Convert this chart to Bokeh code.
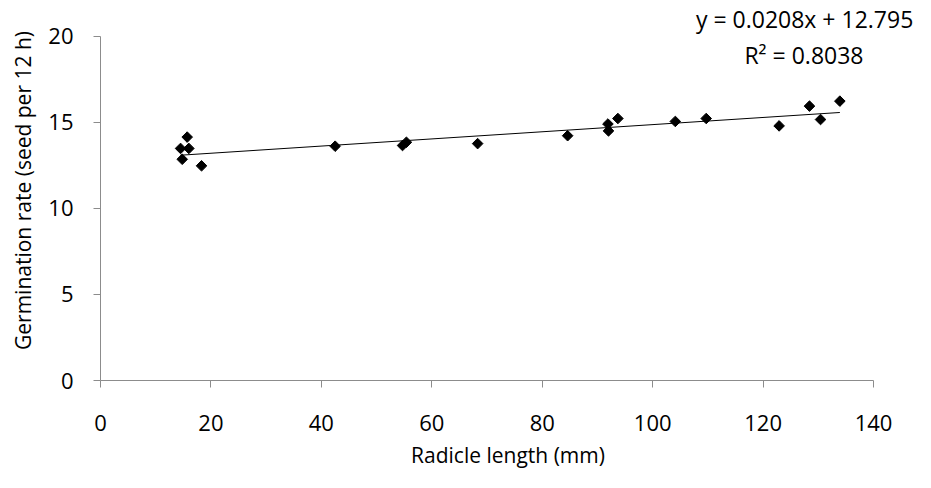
import math
from bokeh.plotting import figure
from bokeh.models import Label, Range1d, FixedTicker
from bokeh.embed import file_html
from bokeh.resources import INLINE

# Data
radicle_length = [14.5, 14.8, 15.7, 16.0, 18.3, 42.5, 54.7, 55.4, 68.3, 84.6,
                  91.9, 92.0, 93.7, 104.1, 109.7, 122.9, 128.4, 130.4, 133.9]
germination_rate = [13.49, 12.86, 14.15, 13.49, 12.48, 13.62, 13.66, 13.85, 13.77, 14.23,
                    14.91, 14.51, 15.23, 15.06, 15.23, 14.80, 15.95, 15.17, 16.24]
slope = 0.0208
intercept = 12.795
r_squared = 0.8038
x_ticks = [0, 20, 40, 60, 80, 100, 120, 140]
y_ticks = [0, 5, 10, 15, 20]

FONT = "Open Sans"
AXIS_COLOR = "#8c8c8c"

p = figure(width=915, height=472, output_backend="svg", toolbar_location=None,
           x_range=Range1d(0, 147.6), y_range=Range1d(0, 22.09),
           min_border_left=100, min_border_right=0, min_border_top=0, min_border_bottom=92)
p.outline_line_color = None
p.xgrid.visible = False
p.ygrid.visible = False
p.background_fill_color = "white"
p.border_fill_color = "white"

# trend line computed from slope/intercept over data range
x0, x1 = min(radicle_length), max(radicle_length)
p.line([x0, x1], [slope * x0 + intercept, slope * x1 + intercept], line_color="black", line_width=1)

p.scatter(radicle_length, germination_rate, marker="square", size=7.5, angle=math.pi / 4,
          fill_color="black", line_color="black")

for ax in (p.xaxis[0], p.yaxis[0]):
    ax.axis_line_color = AXIS_COLOR
    ax.major_tick_line_color = AXIS_COLOR
    ax.minor_tick_line_color = None
    ax.major_tick_in = 0
    ax.major_tick_out = 7
    ax.major_label_text_font = FONT
    ax.major_label_text_font_size = "22px"
    ax.major_label_text_color = "black"
    ax.axis_label_text_font = FONT
    ax.axis_label_text_font_size = "21px"
    ax.axis_label_text_font_style = "normal"
    ax.axis_label_text_color = "black"

p.xaxis.bounds = (0, 140)
p.yaxis.bounds = (0, 20)
p.xaxis.ticker = FixedTicker(ticks=x_ticks)
p.yaxis.ticker = FixedTicker(ticks=y_ticks)
p.xaxis.axis_label = "Radicle length (mm)"
p.yaxis.axis_label = "Germination rate (seed per 12 h)"
p.xaxis.major_label_standoff = 27
p.yaxis.major_label_standoff = 20
p.xaxis.axis_label_standoff = 7
p.yaxis.axis_label_standoff = 8

eq_text = "y = %.4fx + %.3f" % (slope, intercept)
r2_text = "R\u00b2 = %.4f" % r_squared
p.add_layout(Label(x=147.2, y=20.99, text=eq_text, text_align="right", text_baseline="middle",
                   text_font=FONT, text_font_size="23px", text_color="black"))
p.add_layout(Label(x=127.4, y=18.95, text=r2_text, text_align="center", text_baseline="middle",
                   text_font=FONT, text_font_size="23px", text_color="black"))

open("out.html", "w").write(file_html(p, INLINE))
